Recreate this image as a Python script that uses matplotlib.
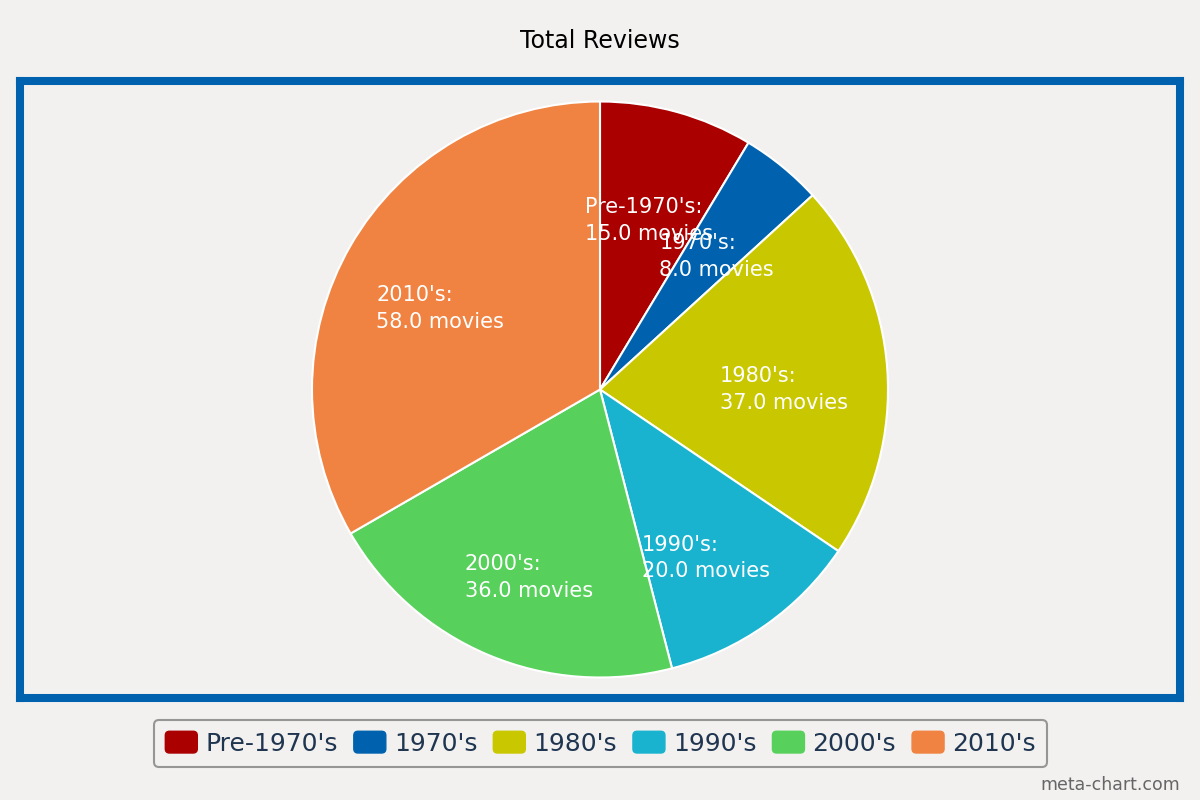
import numpy as np
import matplotlib
matplotlib.use('Agg')
import matplotlib.pyplot as plt
from matplotlib.patches import Patch, FancyBboxPatch
from matplotlib.legend_handler import HandlerPatch

# chart data
decades = ["Pre-1970's", "1970's", "1980's", "1990's", "2000's", "2010's"]
reviews = [15.0, 8.0, 37.0, 20.0, 36.0, 58.0]
colors = ['#aa0000', '#0062ae', '#c9c800', '#1ab3cf', '#57d15b', '#f08341']

bg = '#f2f1f0'
fig = plt.figure(figsize=(12, 8), dpi=100, facecolor=bg)

# plot area with blue frame
ax = fig.add_axes([20 / 1200, 1 - 698 / 800, 1160 / 1200, 617 / 800])
ax.set_facecolor(bg)

wedges, _ = ax.pie(reviews, colors=colors, startangle=90, counterclock=False,
                   radius=1.0, center=(0, 0),
                   wedgeprops=dict(edgecolor='white', linewidth=1.5))
ax.set_frame_on(True)
for sp in ax.spines.values():
    sp.set_color('#0062ae')
    sp.set_linewidth(5.8)
ax.set_xticks([])
ax.set_yticks([])
ax.set_xlim(-580 / 288, 580 / 288)
ax.set_ylim(-308.5 / 288, 308.5 / 288)

# slice labels
total = sum(reviews)
start = 90.0
for name, val in zip(decades, reviews):
    span = val / total * 360
    mid = np.deg2rad(start - span / 2)
    start -= span
    r = 0.64
    x = r * np.cos(mid)
    y = r * np.sin(mid) - 0.03 - 5 * (1 - np.sin(mid)) / 288
    ax.text(x, y, f"{name}:\n{val:.1f} movies",
            ha='center', va='center', multialignment='left', color='white',
            fontsize=15, linespacing=1.42)

fig.text(0.5, 1 - 41 / 800, 'Total Reviews', ha='center', va='center',
         fontsize=17, color='black')


def rounded_box(legend, orig_handle, xdescent, ydescent, width, height, fontsize):
    return FancyBboxPatch((-xdescent, -ydescent), width, height,
                          boxstyle='round,pad=0,rounding_size=3')


handles = [Patch(facecolor=c, edgecolor=c, label=d) for d, c in zip(decades, colors)]
leg = fig.legend(handles=handles, loc='center', bbox_to_anchor=(600.5 / 1200, 1 - 743.5 / 800),
                 ncol=6, frameon=True, fancybox=True, fontsize=18,
                 handlelength=1.28, handleheight=0.96, handletextpad=0.32,
                 columnspacing=0.64, borderpad=0.45, borderaxespad=0,
                 handler_map={Patch: HandlerPatch(patch_func=rounded_box)})
leg.get_frame().set_edgecolor('#7f7f7f')
leg.get_frame().set_facecolor(bg)
leg.get_frame().set_linewidth(1.5)
for t in leg.get_texts():
    t.set_color('#1f3550')

fig.text(1 - 20 / 1200, 1 - 785 / 800, 'meta-chart.com', ha='right', va='center',
         fontsize=12.5, color='#666666')

fig.savefig('out.png', dpi=100, facecolor=bg)
